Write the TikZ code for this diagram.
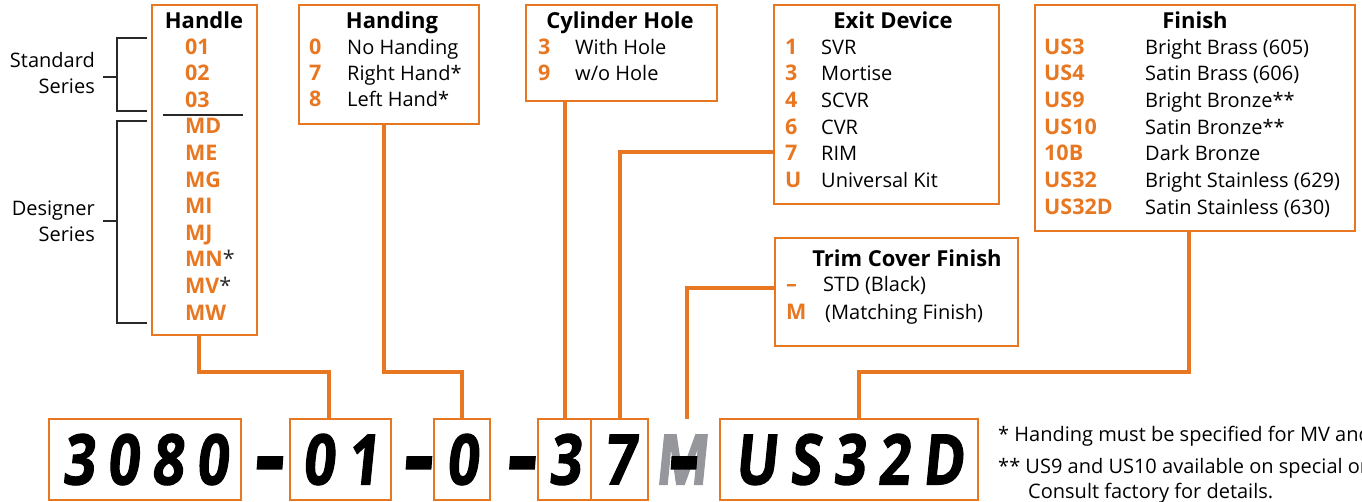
\documentclass[tikz,border=0pt]{standalone}
\usepackage{fontspec}
\setmainfont{Open Sans}
\newfontfamily\codefont[FakeSlant=0.1,FakeStretch=0.8,LetterSpace=18,FakeBold=1.5]{Open Sans}
\newfontfamily\notefont{Open Sans}
\definecolor{brand}{RGB}{232,119,34}
\definecolor{mgray}{RGB}{150,151,156}
\definecolor{ink}{RGB}{40,40,40}
\newcommand{\bigdash}{\scalebox{1.05}[1.5]{–}}

\begin{document}
\begin{tikzpicture}[x=1pt,y=-1pt,
  obox/.style={draw=brand,line width=2.5pt,inner sep=0pt},
  cbox/.style={obox,minimum height=81pt,font=\codefont\bfseries\fontsize{70}{70}\selectfont,text=black},
  bigch/.style={inner sep=0pt,font=\codefont\bfseries\fontsize{70}{70}\selectfont},
  ttl/.style={anchor=base,font=\bfseries\fontsize{22}{22}\selectfont,inner sep=0pt},
  code/.style={anchor=base west,font=\bfseries\fontsize{21.5}{21.5}\selectfont,text=brand,inner sep=0pt},
  item/.style={anchor=base west,font=\fontsize{20}{20}\selectfont,inner sep=0pt},
  side/.style={anchor=east,align=right,font=\fontsize{20}{26}\selectfont,inner sep=0pt},
  conn/.style={draw=brand,line width=4pt},
  brk/.style={draw=ink,line width=1.3pt},
  note/.style={anchor=base west,font=\notefont\fontsize{20}{20}\selectfont,inner sep=0pt}]
  \useasboundingbox (0,0) rectangle (1362,501);
  \coordinate (bend) at (0,372);

  % top boxes
  \node[obox,minimum width=105pt,minimum height=330pt] (handle) at (204.5,170) {};
  \node[obox,minimum width=180pt,minimum height=119pt] (handing) at (389,64.5) {};
  \node[obox,minimum width=191pt,minimum height=96pt] (cyl) at (621.5,53) {};
  \node[obox,minimum width=225pt,minimum height=199pt] (exit) at (886.5,104.5) {};
  \node[obox,minimum width=320pt,minimum height=226pt] (finish) at (1195,118) {};
  \node[obox,minimum width=243pt,minimum height=108pt] (trim) at (896.5,292) {};

  % handle
  \node[ttl] (handlettl) at (204,28) {Handle};
  \node[code] (hd01) at (185,54) {01};
  \node[code] (hd02) at (185,80.6) {02};
  \node[code] (hd03) at (185,107.2) {03};
  \node[code] (hdMD) at (185,133.8) {MD};
  \node[code] (hdME) at (185,160.4) {ME};
  \node[code] (hdMG) at (185,187) {MG};
  \node[code] (hdMI) at (185,213.6) {MI};
  \node[code] (hdMJ) at (185,240.2) {MJ};
  \node[code] (hdMN) at (185,266.8) {MN\textcolor{ink}{\mdseries*}};
  \node[code] (hdMV) at (185,293.4) {MV\textcolor{ink}{\mdseries*}};
  \node[code] (hdMW) at (185,320) {MW};
  \draw[draw=ink,line width=1.5pt] (163,115) -- (243,115);

  % series brackets
  \node[side] (stdlab) at (95,73) {Standard\\Series};
  \node[side] (dsglab) at (95,221.5) {Designer\\Series};
  \draw[brk] (147,38) -| (117,111) -- (147,111);
  \draw[brk] (103,77) -- (117,77);
  \draw[brk] (147,121) -| (117,323) -- (147,323);
  \draw[brk] (103,221) -- (117,221);

  % handing
  \node[ttl] (handingttl) at (392,28) {Handing};
  \node[code] (hg0) at (309,54) {0};
  \node[item] (hg0t) at (347,54) {No Handing};
  \node[code] (hg7) at (309,80) {7};
  \node[item] (hg7t) at (347,80) {Right Hand*};
  \node[code] (hg8) at (309,106) {8};
  \node[item] (hg8t) at (347,106) {Left Hand*};

  % cylinder hole
  \node[ttl] (cylttl) at (620,28) {Cylinder Hole};
  \node[code] (cy3) at (538,54) {3};
  \node[item] (cy3t) at (575,54) {With Hole};
  \node[code] (cy9) at (538,80) {9};
  \node[item] (cy9t) at (575,80) {w/o Hole};

  % exit device
  \node[ttl] (exitttl) at (893,28) {Exit Device};
  \node[code] (ex1) at (785,54) {1};
  \node[item] (ex1t) at (821,54) {SVR};
  \node[code] (ex3) at (785,80) {3};
  \node[item] (ex3t) at (821,80) {Mortise};
  \node[code] (ex4) at (785,107) {4};
  \node[item] (ex4t) at (821,107) {SCVR};
  \node[code] (ex6) at (785,134) {6};
  \node[item] (ex6t) at (821,134) {CVR};
  \node[code] (ex7) at (785,160) {7};
  \node[item] (ex7t) at (821,160) {RIM};
  \node[code] (exU) at (785,187) {U};
  \node[item] (exUt) at (821,187) {Universal Kit};

  % finish
  \node[ttl] (finttl) at (1195,28) {Finish};
  \node[code] (fn3) at (1044,54) {US3};
  \node[item] (fn3t) at (1145,54) {Bright Brass (605)};
  \node[code] (fn4) at (1044,80) {US4};
  \node[item] (fn4t) at (1145,80) {Satin Brass (606)};
  \node[code] (fn9) at (1044,107) {US9};
  \node[item] (fn9t) at (1145,107) {Bright Bronze**};
  \node[code] (fn10) at (1044,134) {US10};
  \node[item] (fn10t) at (1145,134) {Satin Bronze**};
  \node[code] (fnB) at (1044,160) {10B};
  \node[item] (fnBt) at (1145,160) {Dark Bronze};
  \node[code] (fn32) at (1044,187) {US32};
  \node[item] (fn32t) at (1145,187) {Bright Stainless (629)};
  \node[code] (fn32D) at (1044,214) {US32D};
  \node[item] (fn32Dt) at (1145,214) {Satin Stainless (630)};

  % trim cover finish
  \node[ttl] (trimttl) at (907,266) {Trim Cover Finish};
  \node[code] (tr1) at (786,291) {–};
  \node[item] (tr1t) at (823,291) {STD (Black)};
  \node[code] (tr2) at (786,319) {M};
  \node[item] (tr2t) at (825,319) {(Matching Finish)};

  % part number
  \node[cbox,minimum width=192pt] (c3080) at (145,459.5) {3080};
  \node[bigch] (d1) at (268,474) {\bigdash};
  \node[cbox,minimum width=101pt] (c01) at (340.5,459.5) {01};
  \node[bigch] (d2) at (417,474) {\bigdash};
  \node[cbox,minimum width=56pt] (c0) at (462,459.5) {0};
  \node[bigch] (d3) at (520.5,474) {\bigdash};
  \node[cbox,minimum width=53pt] (c3) at (564.5,459.5) {3};
  \node[cbox,minimum width=57pt] (c7) at (619.5,459.5) {7};
  \node[bigch,text=mgray,minimum height=81pt] (cM) at (681,459.5) {M};
  \node[bigch] (d4) at (682,474) {\bigdash};
  \node[cbox,minimum width=258pt] (cUS) at (849,459.5) {US32D};

  % footnotes
  \node[note] (fn1) at (998,441) {* Handing must be specified for MV and MN};
  \node[note] (fn2) at (998,473) {** US9 and US10 available on special order.};
  \node[note] (fn3) at (1028,498) {Consult factory for details.};

  % connectors
  \coordinate (h01in) at ([xshift=-12pt]c01.north);
  \coordinate (usin) at ([xshift=10pt]cUS.north);
  \draw[conn] ([xshift=-6pt]handle.south) |- (bend -| h01in) -- (h01in);
  \draw[conn] ([xshift=-5pt]handing.south) |- (bend -| c0.north) -- (c0.north);
  \draw[conn] (cyl.south -| c3.north) -- (c3.north);
  \draw[conn] (c7.north) |- (exit.west |- ex7);
  \draw[conn] ([xshift=6pt]cM.north) |- (trim.west |- tr1);
  \draw[conn] ([xshift=-6pt]finish.south) |- (bend -| usin) -- (usin);
\end{tikzpicture}
\end{document}
